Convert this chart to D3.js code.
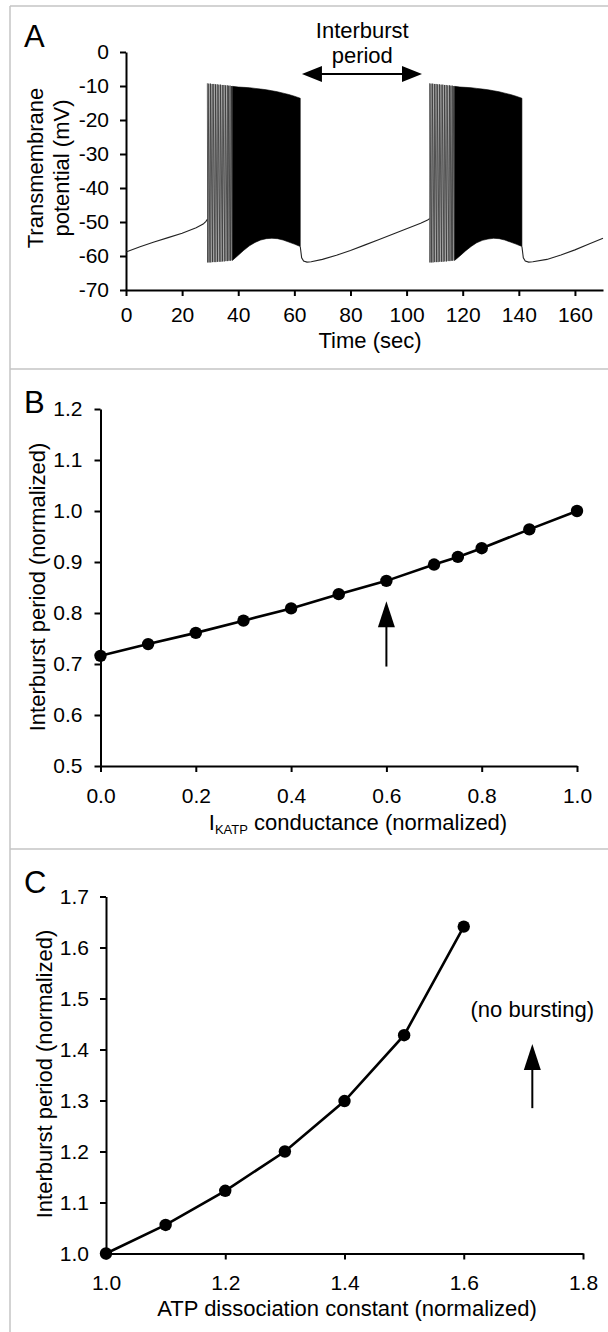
<!DOCTYPE html>
<html>
<head>
<meta charset="utf-8">
<script src="https://cdn.jsdelivr.net/npm/d3@7"></script>
<style>
  body { margin: 0; background: #fff; }
  svg text { font-family: "Liberation Sans", Arial, sans-serif; fill: #000; }
</style>
</head>
<body>
<div id="chart"></div>
<script>
// ---- panel A : membrane potential trace ----
var tickA_x = [0, 20, 40, 60, 80, 100, 120, 140, 160];
var tickA_y = [0, -10, -20, -30, -40, -50, -60, -70];

var restA0 = [[0,-58.8],[5,-57.3],[10,-55.9],[15,-54.6],[20,-53.3],[25,-51.7],[27.5,-50.6],[28.5,-49.8],[29,-49.2]];
var spikesA1 = [29.0,29.5,30.1,30.7,31.3,31.9,32.5,33.1,33.7,34.3,34.9,35.5,36.1,36.6,37.1,37.6];
var peaksA1 = [-9.2,-9.3,-9.3,-9.4,-9.4,-9.5,-9.5,-9.6,-9.6,-9.7,-9.7,-9.8,-9.8,-9.9,-9.9,-10.0];
var troughsA1 = [-61.9,-61.9,-61.9,-61.8,-61.8,-61.8,-61.7,-61.7,-61.7,-61.6,-61.6,-61.5,-61.5,-61.4,-61.4,-61.3];
var denseA1 = [[37.9,-10.1,-61.3],[40,-10.3,-59.8],[42,-10.4,-58.3],[44,-10.5,-57.0],[46,-10.7,-56.0],[48,-10.9,-55.3],
  [50,-11.1,-54.9],[52,-11.4,-54.8],[54,-11.7,-54.9],[56,-12.1,-55.3],[58,-12.5,-55.9],[60,-13.0,-56.5],[62.1,-13.6,-57.2]];
var restA1 = [[62.1,-57.2],[62.6,-60.5],[63.3,-61.5],[64.5,-61.8],[66,-61.7],[70,-61.0],[75,-59.8],[80,-58.4],[85,-56.8],
  [90,-55.2],[95,-53.6],[100,-52.0],[105,-50.4],[107.5,-49.4],[108.2,-49.0]];
var spikesA2 = [108.2,108.7,109.3,109.9,110.5,111.1,111.7,112.3,112.9,113.5,114.1,114.7,115.3,115.8,116.3,116.8];
var peaksA2 = [-9.2,-9.3,-9.3,-9.4,-9.4,-9.5,-9.5,-9.6,-9.6,-9.7,-9.7,-9.8,-9.8,-9.9,-9.9,-10.0];
var troughsA2 = [-61.9,-61.9,-61.9,-61.8,-61.8,-61.8,-61.7,-61.7,-61.7,-61.6,-61.6,-61.5,-61.5,-61.4,-61.4,-61.3];
var denseA2 = [[117.1,-10.1,-61.3],[119,-10.3,-60.0],[121,-10.4,-58.5],[123,-10.5,-57.2],[125,-10.7,-56.1],[127,-10.9,-55.4],
  [129,-11.1,-55.0],[131,-11.4,-54.8],[133,-11.7,-54.9],[135,-12.1,-55.3],[137,-12.5,-55.9],[139,-13.0,-56.5],[141.1,-13.6,-57.2]];
var restA2 = [[141.1,-57.2],[141.6,-60.5],[142.3,-61.5],[143.5,-61.8],[145,-61.7],[150,-61.0],[155,-59.7],[160,-58.2],[165,-56.5],[170,-54.8]];

// ---- panel B ----
var katpX = [0, 0.1, 0.2, 0.3, 0.4, 0.5, 0.6, 0.7, 0.75, 0.8, 0.9, 1.0];
var katpY = [0.716, 0.739, 0.761, 0.785, 0.809, 0.837, 0.863, 0.895, 0.910, 0.927, 0.964, 1.0];
var tickB_x = [0, 0.2, 0.4, 0.6, 0.8, 1.0];
var tickB_y = [0.5, 0.6, 0.7, 0.8, 0.9, 1.0, 1.1, 1.2];

// ---- panel C ----
var kdX = [1.0, 1.1, 1.2, 1.3, 1.4, 1.5, 1.6];
var kdY = [1.0, 1.056, 1.123, 1.200, 1.299, 1.428, 1.641];
var tickC_x = [1.0, 1.2, 1.4, 1.6, 1.8];
var tickC_y = [1.0, 1.1, 1.2, 1.3, 1.4, 1.5, 1.6, 1.7];

var W = 608, H = 1332;
var svg = d3.select("#chart").append("svg").attr("width", W).attr("height", H);

// panel frames
var frame = svg.append("g").attr("stroke", "#c4c4c4").attr("stroke-width", 1.5);
frame.append("line").attr("x1", 10).attr("x2", W).attr("y1", 6).attr("y2", 6);
frame.append("line").attr("x1", 10).attr("x2", 10).attr("y1", 6).attr("y2", H);
frame.append("line").attr("x1", 10).attr("x2", W).attr("y1", 369).attr("y2", 369);
frame.append("line").attr("x1", 10).attr("x2", W).attr("y1", 849).attr("y2", 849);

function axes(x, y, xt, yt, fmt, xpad, ypad) {
  var gx = svg.append("g")
    .attr("transform", "translate(0," + y.range()[0] + ")")
    .call(d3.axisBottom(x).tickValues(xt).tickFormat(fmt).tickSize(6).tickSizeOuter(0).tickPadding(xpad));
  var gy = svg.append("g")
    .attr("transform", "translate(" + x.range()[0] + ",0)")
    .call(d3.axisLeft(y).tickValues(yt).tickFormat(fmt).tickSize(6).tickSizeOuter(0).tickPadding(ypad));
  [gx, gy].forEach(function(g) {
    g.attr("font-size", 21).attr("font-family", null);
    g.selectAll("path, line").attr("stroke", "#000").attr("stroke-width", 2);
    g.selectAll("text").attr("fill", "#000");
  });
}

function arrowHead(g, x, y, dir, len, half) {
  // dir: "up", "left", "right"
  var p;
  if (dir == "up") p = [[x, y], [x - half, y + len], [x + half, y + len]];
  else if (dir == "left") p = [[x, y], [x + len, y - half], [x + len, y + half]];
  else p = [[x, y], [x - len, y - half], [x - len, y + half]];
  g.append("path").attr("d", "M" + p.join("L") + "Z").attr("fill", "#000");
}

// ===================== A =====================
var xA = d3.scaleLinear().domain([0, 170]).range([126, 603]);
var yA = d3.scaleLinear().domain([-70, 0]).range([290, 52]);
axes(xA, yA, tickA_x, tickA_y, function(d) { return String(d); }, 11, 11);

var lineA = d3.line().x(function(d) { return xA(d[0]); }).y(function(d) { return yA(d[1]); });
var areaA = d3.area().x(function(d) { return xA(d[0]); })
  .y0(function(d) { return yA(d[2]); }).y1(function(d) { return yA(d[1]); });

function spikePts(ts, pk, tr) {
  var pts = [];
  ts.forEach(function(t, i) {
    pts.push([t, pk[i]]);
    pts.push([t + 0.12, tr[i]]);
  });
  return pts;
}

var trace = svg.append("g");
trace.append("path").datum(restA0).attr("d", lineA).attr("fill", "none").attr("stroke", "#222").attr("stroke-width", 1.1);
trace.append("path").datum(spikePts(spikesA1, peaksA1, troughsA1)).attr("d", lineA)
  .attr("fill", "none").attr("stroke", "#333").attr("stroke-width", 0.8);
trace.append("path").datum(denseA1).attr("d", areaA).attr("fill", "#000").attr("stroke", "#000").attr("stroke-width", 0.6);
trace.append("path").datum(restA1).attr("d", lineA).attr("fill", "none").attr("stroke", "#222").attr("stroke-width", 1.1);
trace.append("path").datum(spikePts(spikesA2, peaksA2, troughsA2)).attr("d", lineA)
  .attr("fill", "none").attr("stroke", "#333").attr("stroke-width", 0.8);
trace.append("path").datum(denseA2).attr("d", areaA).attr("fill", "#000").attr("stroke", "#000").attr("stroke-width", 0.6);
trace.append("path").datum(restA2).attr("d", lineA).attr("fill", "none").attr("stroke", "#222").attr("stroke-width", 1.1);

// interburst arrow
var arrA = svg.append("g");
var a0 = xA(62.7), a1 = xA(105.5), ay = yA(-6.5);
arrA.append("line").attr("x1", a0 + 10).attr("x2", a1 - 10).attr("y1", ay).attr("y2", ay)
  .attr("stroke", "#000").attr("stroke-width", 2);
arrowHead(arrA, a0, ay, "left", 20, 8);
arrowHead(arrA, a1, ay, "right", 20, 8);
svg.append("text").attr("x", xA(84.2)).attr("y", 38).attr("text-anchor", "middle").attr("font-size", 22).text("Interburst");
svg.append("text").attr("x", xA(84.2)).attr("y", 63).attr("text-anchor", "middle").attr("font-size", 22).text("period");

svg.append("text").attr("x", 24).attr("y", 47).attr("font-size", 31).text("A");
svg.append("text").attr("x", 370).attr("y", 348).attr("text-anchor", "middle").attr("font-size", 22).text("Time (sec)");
var ylabA = svg.append("text").attr("transform", "translate(43,168) rotate(-90)").attr("text-anchor", "middle").attr("font-size", 22);
ylabA.append("tspan").attr("x", 0).attr("y", 0).text("Transmembrane");
ylabA.append("tspan").attr("x", 0).attr("y", 26).text("potential (mV)");

// ===================== B =====================
var xB = d3.scaleLinear().domain([0, 1]).range([100.5, 577]);
var yB = d3.scaleLinear().domain([0.5, 1.2]).range([766, 409]);
axes(xB, yB, tickB_x, tickB_y, d3.format(".1f"), 16, 12);

var ptsB = katpX.map(function(d, i) { return [d, katpY[i]]; });
var lineB = d3.line().x(function(d) { return xB(d[0]); }).y(function(d) { return yB(d[1]); });
svg.append("path").datum(ptsB).attr("d", lineB).attr("fill", "none").attr("stroke", "#000").attr("stroke-width", 2.6);
svg.append("g").selectAll("circle").data(ptsB).enter().append("circle")
  .attr("cx", function(d) { return xB(d[0]); })
  .attr("cy", function(d) { return yB(d[1]); })
  .attr("r", 6.2).attr("fill", "#000");

var arrB = svg.append("g");
arrB.append("line").attr("x1", xB(0.6)).attr("x2", xB(0.6)).attr("y1", yB(0.695)).attr("y2", yB(0.823) + 20)
  .attr("stroke", "#000").attr("stroke-width", 2);
arrowHead(arrB, xB(0.6), yB(0.823), "up", 26, 8.5);

svg.append("text").attr("x", 24).attr("y", 413).attr("font-size", 31).text("B");
var xlabB = svg.append("text").attr("x", 358).attr("y", 830).attr("text-anchor", "middle").attr("font-size", 22);
xlabB.append("tspan").text("I");
xlabB.append("tspan").attr("font-size", 13).attr("dy", 4).text("KATP");
xlabB.append("tspan").attr("dy", -4).text(" conductance (normalized)");
svg.append("text").attr("transform", "translate(37,587) rotate(-90)").attr("dy", "0.35em")
  .attr("text-anchor", "middle").attr("font-size", 22).text("Interburst period (normalized)");

// ===================== C =====================
var xC = d3.scaleLinear().domain([1.0, 1.8]).range([106, 583]);
var yC = d3.scaleLinear().domain([1.0, 1.7]).range([1253.5, 896.5]);
axes(xC, yC, tickC_x, tickC_y, d3.format(".1f"), 16, 11);

var ptsC = kdX.map(function(d, i) { return [d, kdY[i]]; });
var lineC = d3.line().x(function(d) { return xC(d[0]); }).y(function(d) { return yC(d[1]); });
svg.append("path").datum(ptsC).attr("d", lineC).attr("fill", "none").attr("stroke", "#000").attr("stroke-width", 2.6);
svg.append("g").selectAll("circle").data(ptsC).enter().append("circle")
  .attr("cx", function(d) { return xC(d[0]); })
  .attr("cy", function(d) { return yC(d[1]); })
  .attr("r", 6.2).attr("fill", "#000");

var arrC = svg.append("g");
arrC.append("line").attr("x1", xC(1.715)).attr("x2", xC(1.715)).attr("y1", yC(1.285)).attr("y2", yC(1.411) + 20)
  .attr("stroke", "#000").attr("stroke-width", 2);
arrowHead(arrC, xC(1.715), yC(1.411), "up", 26, 8.5);
svg.append("text").attr("x", xC(1.715)).attr("y", 1017).attr("text-anchor", "middle").attr("font-size", 22).text("(no bursting)");

svg.append("text").attr("x", 24).attr("y", 893).attr("font-size", 31).text("C");
svg.append("text").attr("x", 347).attr("y", 1316).attr("text-anchor", "middle").attr("font-size", 22)
  .text("ATP dissociation constant (normalized)");
svg.append("text").attr("transform", "translate(44,1074) rotate(-90)").attr("dy", "0.35em")
  .attr("text-anchor", "middle").attr("font-size", 22).text("Interburst period (normalized)");
</script>
</body>
</html>
